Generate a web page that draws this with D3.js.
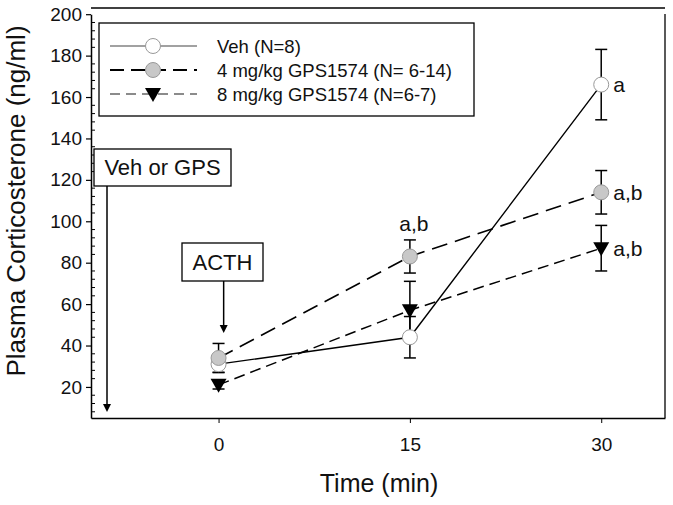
<!DOCTYPE html>
<html>
<head>
<meta charset="utf-8">
<script src="https://cdn.jsdelivr.net/npm/d3@7"></script>
<style>
  body { margin: 0; background: #fff; }
  svg { font-family: Arial, 'Liberation Sans', sans-serif; }
</style>
</head>
<body>
<svg id="chart" width="673" height="505"></svg>
<script>
// time points (min)
let times = [0, 15, 30]
// mean plasma corticosterone (ng/ml) and SEM
let vehMean = [31, 44, 166]
let vehErr = [4, 10, 17]
let gps4Mean = [34, 83, 114]
let gps4Err = [7, 8, 10.5]
let gps8Mean = [21, 57, 87]
let gps8Err = [2, 14, 11]
let seriesNames = ['Veh (N=8)', '4 mg/kg GPS1574 (N= 6-14)', '8 mg/kg GPS1574 (N=6-7)']
let yTicks = [20, 40, 60, 80, 100, 120, 140, 160, 180, 200]
let xTicks = [0, 15, 30]
// significance labels
let sigLabels = [
  {t: 30, v: 166, text: 'a', pos: 'right'},
  {t: 30, v: 114, text: 'a,b', pos: 'right'},
  {t: 30, v: 87, text: 'a,b', pos: 'right'},
  {t: 15, v: 95.5, text: 'a,b', pos: 'above'}
]

let series = [
  {name: seriesNames[0], mean: vehMean, err: vehErr, symbol: 'circle', fill: '#fff', dash: null, width: 1.4},
  {name: seriesNames[1], mean: gps4Mean, err: gps4Err, symbol: 'circle', fill: '#c8c8c8', dash: '16,8', width: 1.6},
  {name: seriesNames[2], mean: gps8Mean, err: gps8Err, symbol: 'triangle', fill: '#000', dash: '11,6', width: 1.5}
]

let svg = d3.select('#chart')
let pLeft = 91, pRight = 665, pTop = 14, pBottom = 418

let x = d3.scaleLinear().domain([-10, 35]).range([pLeft, pRight])
let y = d3.scaleLinear().domain([5, 200]).range([pBottom, pTop + 0.2])

// frame
svg.append('line').attr('x1', pLeft).attr('x2', pRight).attr('y1', 8).attr('y2', 8)
  .attr('stroke', '#000').attr('stroke-width', 1.5)
svg.append('line').attr('x1', pRight).attr('x2', pRight).attr('y1', pTop).attr('y2', pBottom)
  .attr('stroke', '#000').attr('stroke-width', 1.3)

// y axis
let yAxis = svg.append('g')
  .attr('transform', `translate(${pLeft},0)`)
  .call(d3.axisLeft(y).tickValues(yTicks).tickSize(5).tickPadding(4).tickSizeOuter(0))
yAxis.select('.domain').attr('stroke-width', 1.5)
yAxis.selectAll('.tick line').attr('stroke-width', 1.2)
yAxis.selectAll('text').attr('font-size', 19).attr('fill', '#111')
let minor = d3.range(8, 200, 4).filter(v => v % 20 !== 0)
svg.append('g').selectAll('line').data(minor).join('line')
  .attr('x1', pLeft).attr('x2', pLeft + 4)
  .attr('y1', d => y(d)).attr('y2', d => y(d))
  .attr('stroke', '#000').attr('stroke-width', 1)

// x axis
let xAxis = svg.append('g')
  .attr('transform', `translate(0,${pBottom})`)
  .call(d3.axisBottom(x).tickValues(xTicks).tickSize(5).tickPadding(15).tickSizeOuter(0))
xAxis.select('.domain').attr('stroke-width', 1.5)
xAxis.selectAll('text').attr('font-size', 19).attr('fill', '#111')

// axis titles
svg.append('text')
  .attr('transform', `translate(25,${(15 + 387) / 2}) rotate(-90)`)
  .attr('text-anchor', 'middle').attr('font-size', 26).attr('fill', '#111')
  .text('Plasma Corticosterone (ng/ml)')
svg.append('text')
  .attr('x', 379).attr('y', 492)
  .attr('text-anchor', 'middle').attr('font-size', 25).attr('fill', '#111')
  .text('Time (min)')

// annotation boxes + arrows
function arrow(x0, y0, y1) {
  svg.append('line').attr('x1', x0).attr('x2', x0).attr('y1', y0).attr('y2', y1 - 6)
    .attr('stroke', '#000').attr('stroke-width', 1.5)
  svg.append('path')
    .attr('d', `M${x0 - 4},${y1 - 8}L${x0 + 4},${y1 - 8}L${x0},${y1}Z`)
    .attr('fill', '#000')
}
function box(x0, y0, w, h, label) {
  svg.append('rect').attr('x', x0).attr('y', y0).attr('width', w).attr('height', h)
    .attr('fill', '#fff').attr('stroke', '#000').attr('stroke-width', 1.3)
  svg.append('text').attr('x', x0 + w / 2).attr('y', y0 + h / 2).attr('dy', '0.36em')
    .attr('text-anchor', 'middle').attr('font-size', 22).attr('fill', '#111').text(label)
}
arrow(107, 186, 412)
box(94, 149, 137, 37, 'Veh or GPS')
arrow(x(0.4), 281, 333)
box(182, 243, 81, 38, 'ACTH')

// symbols
let circleSym = d3.symbol().type(d3.symbolCircle).size(Math.PI * 7.5 * 7.5)
let triPath = 'M-8,-6L8,-6L0,8Z'
function drawMarker(g, s) {
  if (s.symbol === 'circle') {
    g.append('path').attr('d', circleSym())
      .attr('fill', s.fill).attr('stroke', '#999').attr('stroke-width', 1)
  } else {
    g.append('path').attr('d', triPath).attr('fill', '#000')
  }
}

// lines, error bars, markers
let line = d3.line().x((d, i) => x(times[i])).y(d => y(d))
series.forEach(s => {
  svg.append('path').datum(s.mean).attr('d', line)
    .attr('fill', 'none').attr('stroke', '#000')
    .attr('stroke-width', s.width)
    .attr('stroke-dasharray', s.dash)
})
series.forEach(s => {
  let g = svg.append('g')
  times.forEach((t, i) => {
    let cx = x(t), hi = y(s.mean[i] + s.err[i]), lo = y(s.mean[i] - s.err[i])
    g.append('line').attr('x1', cx).attr('x2', cx).attr('y1', hi).attr('y2', lo)
      .attr('stroke', '#000').attr('stroke-width', 1.5)
    ;[hi, lo].forEach(yy => {
      g.append('line').attr('x1', cx - 6).attr('x2', cx + 6).attr('y1', yy).attr('y2', yy)
        .attr('stroke', '#000').attr('stroke-width', 1.5)
    })
  })
})
series.forEach(s => {
  times.forEach((t, i) => {
    let g = svg.append('g').attr('transform', `translate(${x(t)},${y(s.mean[i])})`)
    drawMarker(g, s)
  })
})

// significance labels
svg.append('g').selectAll('text').data(sigLabels).join('text')
  .attr('x', d => d.pos === 'right' ? x(d.t) + 12 : x(d.t) + 4)
  .attr('y', d => y(d.v))
  .attr('dy', d => d.pos === 'right' ? '0.36em' : 0)
  .attr('text-anchor', d => d.pos === 'right' ? 'start' : 'middle')
  .attr('font-size', 21).attr('fill', '#111')
  .text(d => d.text)

// legend
let legend = svg.append('g')
legend.append('rect').attr('x', 99).attr('y', 23).attr('width', 375).attr('height', 93)
  .attr('fill', '#fff').attr('stroke', '#000').attr('stroke-width', 1.3)
let legendStyle = [
  {stroke: '#444', width: 1.2, dash: null},
  {stroke: '#000', width: 2, dash: '14,7'},
  {stroke: '#666', width: 1.3, dash: '10,6'}
]
series.forEach((s, i) => {
  let ly = 46 + i * 24
  legend.append('line').attr('x1', 110).attr('x2', 197).attr('y1', ly).attr('y2', ly)
    .attr('stroke', legendStyle[i].stroke).attr('stroke-width', legendStyle[i].width)
    .attr('stroke-dasharray', legendStyle[i].dash)
  let g = legend.append('g').attr('transform', `translate(153,${ly})`)
  drawMarker(g, s)
  legend.append('text').attr('x', 217).attr('y', ly).attr('dy', '0.36em')
    .attr('font-size', 18.5).attr('fill', '#111').text(s.name)
})
</script>
</body>
</html>
